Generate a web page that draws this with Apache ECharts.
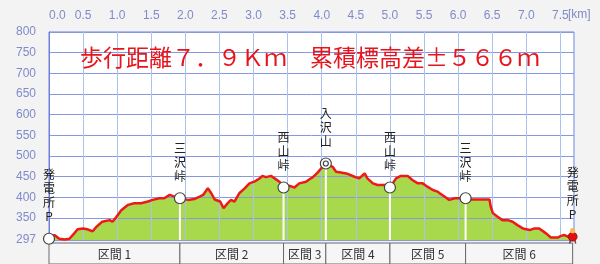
<!DOCTYPE html>
<html><head><meta charset="utf-8">
<script src="https://cdn.jsdelivr.net/npm/echarts@6/dist/echarts.min.js"></script>
<style>html,body{margin:0;padding:0;background:#f3f3f3;}#c{width:600px;height:264px;}</style>
</head><body><div id="c"></div>
<script>
// ---- data ----
const distKm = [0.00,0.08,0.15,0.23,0.30,0.37,0.42,0.50,0.56,0.64,0.69,0.78,0.89,0.93,0.99,1.06,1.16,1.25,1.35,1.45,1.52,1.62,1.69,1.77,1.82,1.92,2.04,2.13,2.21,2.26,2.33,2.38,2.43,2.51,2.56,2.62,2.67,2.72,2.79,2.87,2.94,3.01,3.09,3.13,3.18,3.26,3.31,3.38,3.44,3.53,3.60,3.67,3.77,3.82,3.87,3.94,3.99,4.06,4.16,4.21,4.28,4.38,4.48,4.55,4.63,4.67,4.75,4.82,4.94,5.00,5.09,5.16,5.26,5.33,5.41,5.48,5.55,5.63,5.70,5.73,5.80,5.87,5.95,6.11,6.21,6.46,6.48,6.51,6.58,6.65,6.73,6.80,6.87,6.95,7.05,7.12,7.19,7.29,7.36,7.46,7.51,7.56,7.61,7.68];
const elevM = [300,309,300,298,300,313,323,325,323,318,328,341,345,341,353,369,382,386,386,390,394,398,398,406,403,398,394,396,402,406,422,410,395,390,374,386,394,390,410,422,434,438,446,452,449,452,446,438,424,428,424,434,438,444,449,460,470,482,474,462,460,457,450,446,458,446,434,430,430,424,446,452,452,442,434,434,426,418,414,410,402,394,398,398,395,395,377,362,353,345,345,341,333,325,321,325,325,313,303,303,307,309,305,305];
const waypointKm = [0, 1.92, 3.44, 4.06, 5.00, 6.11, 7.68];
const waypointElev = [300, 398, 424, 482, 424, 398, 305];
const waypointNames = ['発電所P', '三沢峠', '西山峠', '入沢山', '西山峠', '三沢峠', '発電所P'];
const summitName = '入沢山';
const sectionNames = ['区間 1', '区間 2', '区間 3', '区間 4', '区間 5', '区間 6'];
const yTickValues = [297, 350, 400, 450, 500, 550, 600, 650, 700, 750, 800];
const xMin = 0, xMax = 7.7, xStep = 0.5;
const unitText = '[km]';
const titleText = '歩行距離７．９Ｋｍ　累積標高差±５６６ｍ';

// ---- build ----
const profile = distKm.map((d, i) => [d, elevM[i]]);
const waypoints = waypointKm.map((d, i) => [d, waypointElev[i]]);
const sections = sectionNames.map((n, i) => [waypointKm[i], waypointKm[i + 1]]);
const yMin = yTickValues[0], yMax = yTickValues[yTickValues.length - 1];
const labelColor = '#7f8bcb';
const cjk = '"Noto Sans CJK JP", sans-serif';

const chart = echarts.init(document.getElementById('c'), null, {renderer: 'canvas'});
chart.setOption({
  animation: false,
  backgroundColor: '#f3f3f3',
  title: {
    text: titleText, left: 80, top: 46, padding: 0,
    textStyle: {color: '#e8141c', fontSize: 23, fontWeight: 'normal', fontFamily: cjk}
  },
  graphic: [{
    type: 'text', left: 568, top: 9,
    style: {text: unitText, fill: labelColor, font: '12px "Liberation Sans"'}
  }],
  grid: [
    {left: 49, right: 26, top: 32, bottom: 24, show: true, backgroundColor: '#ffffff', borderColor: '#6f80d8', borderWidth: 1},
    {left: 49, right: 26, top: 243, height: 26, show: false}
  ],
  xAxis: [{
    type: 'value', position: 'top', min: xMin, max: xMax, interval: xStep, gridIndex: 0, z: 2,
    axisLine: {show: false}, axisTick: {show: false},
    axisLabel: {formatter: v => v.toFixed(1), color: labelColor, fontSize: 12, fontFamily: 'Liberation Sans', margin: 10, showMaxLabel: false, alignMinLabel: 'left'},
    splitLine: {show: true, lineStyle: {color: '#a9c3ee', width: 1}}
  }, {
    type: 'value', min: xMin, max: xMax, gridIndex: 1, show: false
  }],
  yAxis: [{
    type: 'value', min: yMin, max: yMax, gridIndex: 0, z: 2,
    axisLine: {show: true, lineStyle: {color: '#6f80d8'}},
    axisTick: {show: false, customValues: yTickValues},
    axisLabel: {customValues: yTickValues, color: labelColor, fontSize: 12, fontFamily: 'Liberation Sans', margin: 13},
    splitLine: {show: true, lineStyle: {color: '#8798e0', width: 1}}
  }, {
    type: 'value', min: 0, max: 1, gridIndex: 1, show: false
  }],
  series: [{
    type: 'line', data: profile, xAxisIndex: 0, yAxisIndex: 0, z: 1,
    symbol: 'none', lineStyle: {width: 0}, areaStyle: {color: '#a8d84c', opacity: 1}, silent: true
  }, {
    type: 'line', data: profile, xAxisIndex: 0, yAxisIndex: 0, z: 3,
    symbol: 'none', lineStyle: {color: '#ee1a1a', width: 2.5}, silent: true
  }, {
    type: 'custom', data: waypoints, xAxisIndex: 0, yAxisIndex: 0, z: 4, clip: false, silent: true,
    renderItem: function (params, api) {
      const i = params.dataIndex;
      const n = waypoints.length;
      const p = api.coord([api.value(0), api.value(1)]);
      const b = api.coord([api.value(0), yMin]);
      const ch = [];
      const name = waypointNames[i];
      if (i > 0 && i < n - 1) {
        ch.push({type: 'line', shape: {x1: p[0], y1: p[1], x2: p[0], y2: b[1]}, style: {stroke: '#ffffff', lineWidth: 2}});
      }
      if (i === n - 1) {
        ch.push({type: 'line', shape: {x1: p[0] - 2, y1: p[1] + 2, x2: p[0] - 3, y2: p[1] + 7}, style: {stroke: '#555', lineWidth: 1.5}});
        ch.push({type: 'line', shape: {x1: p[0] + 2, y1: p[1] + 2, x2: p[0] + 3, y2: p[1] + 7}, style: {stroke: '#555', lineWidth: 1.5}});
        ch.push({type: 'circle', shape: {cx: p[0], cy: p[1], r: 4.5}, style: {fill: '#e01010', stroke: '#a00', lineWidth: 0.8}});
        ch.push({type: 'circle', shape: {cx: p[0], cy: p[1] - 6, r: 2.6}, style: {fill: '#f2b860'}});
      } else {
        ch.push({type: 'circle', shape: {cx: p[0], cy: p[1], r: 5.5}, style: {fill: '#ffffff', stroke: '#444', lineWidth: 1.2}});
        if (name === summitName) {
          ch.push({type: 'circle', shape: {cx: p[0], cy: p[1], r: 2.5}, style: {fill: '#ffffff', stroke: '#444', lineWidth: 1.2}});
        }
      }
      ch.push({type: 'text', x: p[0], y: p[1] - 15,
        style: {text: name.split('').join('\n'), fill: '#222', font: '12px ' + cjk, lineHeight: 14, align: 'center', verticalAlign: 'bottom'}});
      return {type: 'group', children: ch};
    }
  }, {
    type: 'custom', data: sections, xAxisIndex: 1, yAxisIndex: 1, z: 2, clip: false, silent: true,
    renderItem: function (params, api) {
      const a = api.coord([api.value(0), 1]);
      const c = api.coord([api.value(1), 0]);
      return {type: 'group', children: [
        {type: 'rect', shape: {x: a[0], y: a[1], width: c[0] - a[0], height: c[1] - a[1]}, style: {fill: '#f6f6f6', stroke: '#6a6a6a', lineWidth: 1}},
        {type: 'text', x: (a[0] + c[0]) / 2, y: a[1] + 11, style: {text: sectionNames[params.dataIndex], fill: '#333', font: '12px ' + cjk, align: 'center', verticalAlign: 'middle'}}
      ]};
    }
  }]
});
</script></body></html>
